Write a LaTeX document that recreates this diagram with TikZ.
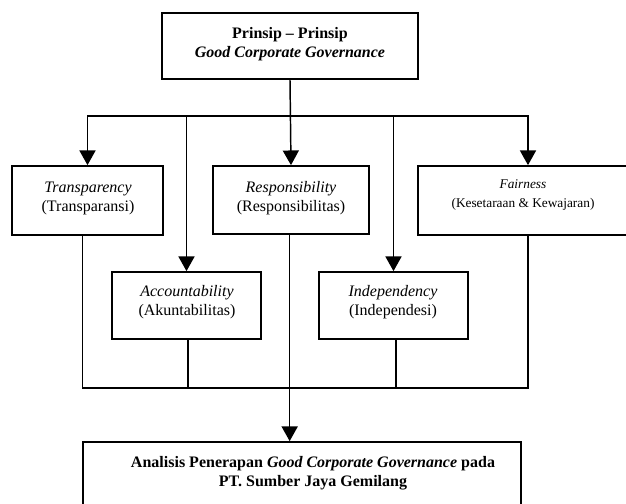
\documentclass[tikz,border=0pt]{standalone}
\usepackage{fontspec}
\setmainfont{Liberation Serif}
\usetikzlibrary{arrows.meta,fit}
\tikzset{
  box/.style={draw, line width=1.3pt, inner sep=0pt, rectangle},
  conn/.style={line width=1.1pt},
  arr/.style={line width=1.1pt, -{Triangle[width=12pt,length=11pt]}},
  txt/.style={align=center, inner sep=0pt, font=\fontsize{12}{14.3}\selectfont},
  smalltxt/.style={align=center, inner sep=0pt, font=\fontsize{10}{13.8}\selectfont}
}
\begin{document}
\begin{tikzpicture}[x=0.75pt, y=-0.75pt]
\useasboundingbox (0,0) rectangle (626,504);
\clip (0,0) rectangle (626,504);
% boxes
\node[box, fit={(162,13) (418,79)}] (top) {};
\node[box, fit={(12,166) (163,235)}] (trans) {};
\node[box, fit={(213,166) (369,234)}] (resp) {};
\node[box, fit={(418,166) (638,235)}] (fair) {};
\node[box, fit={(112,272) (261,339)}] (acc) {};
\node[box, fit={(319,272) (468,339)}] (ind) {};
\node[box, fit={(83,442) (521,530)}] (bot) {};
% texts
\node[txt] (toptxt) at (290,44.5) {\textbf{Prinsip – Prinsip}\\\textbf{\textit{Good Corporate Governance}}};
\node[txt] (transtxt) at (88,198.5) {\textit{Transparency}\\(Transparansi)};
\node[txt] (resptxt) at (291,198.5) {\textit{Responsibility}\\(Responsibilitas)};
\node[smalltxt] (fairtxt) at (523,195) {\textit{Fairness}\\(Kesetaraan \& Kewajaran)};
\node[txt] (acctxt) at (187,302.5) {\textit{Accountability}\\(Akuntabilitas)};
\node[txt] (indtxt) at (393,302.5) {\textit{Independency}\\(Independesi)};
\node[txt, font=\fontsize{12}{14.3}\selectfont\bfseries] (bottxt) at (313,473) {Analisis Penerapan \textit{Good Corporate Governance} pada\\PT. Sumber Jaya Gemilang};
% junctions
\coordinate (j) at (290,116);
\coordinate (k) at (289,388);
% top connectors
\draw[arr] (top.south) -- (resp.north);
\draw[arr] (j) -| (trans.north);
\draw[arr] (j) -| (acc.north);
\draw[arr] (j) -| (ind.north);
\draw[arr] (j) -| (fair.north);
% bottom connectors
\draw[conn] ([xshift=-3.75pt]trans.south) |- (k) -| (fair.south);
\draw[conn] ([xshift=1pt]acc.south) -- ([xshift=1pt]acc.south |- k);
\draw[conn] ([xshift=2pt]ind.south) -- ([xshift=2pt]ind.south |- k);
\draw[arr] ([xshift=-1pt]resp.south) -- ([xshift=-1pt]resp.south |- bot.north);
\end{tikzpicture}
\end{document}
